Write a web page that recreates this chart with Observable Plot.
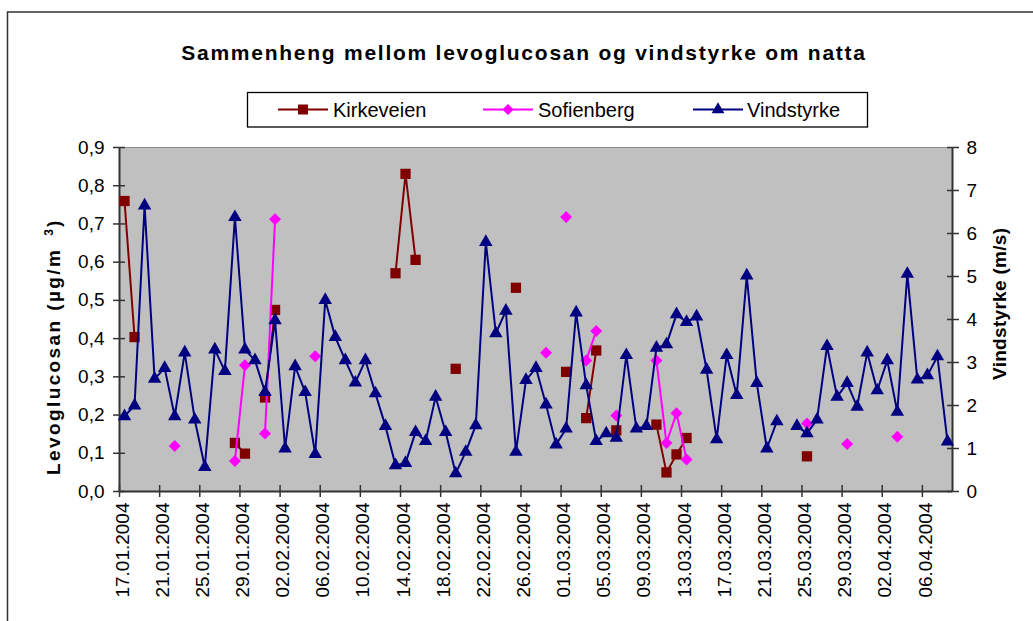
<!DOCTYPE html>
<html><head><meta charset="utf-8">
<script src="https://cdn.jsdelivr.net/npm/d3@7"></script>
<script src="https://cdn.jsdelivr.net/npm/@observablehq/plot@0.6"></script>
<style>
html,body{margin:0;padding:0;background:#fff;}
body{width:1033px;height:621px;overflow:hidden;font-family:"Liberation Sans",Arial,sans-serif;}
#wrap{position:relative;width:1033px;height:621px;}
#wrap svg{position:absolute;left:0;top:0;}
</style></head>
<body><div id="wrap"></div>
<script>
// Categories: one per night, 17.01.2004 .. 08.04.2004
const startDate = Date.UTC(2004, 0, 17);
const endDate = Date.UTC(2004, 3, 9); // exclusive
const dates = d3.utcDay.range(new Date(startDate), new Date(endDate));

// Levoglucosan (µg/m3), left axis
const kirkeveien = [
  0.76, 0.404, null, null, null, null, null, null, null, null,
  null, 0.127, 0.099, null, 0.246, 0.475, null, null, null, null,
  null, null, null, null, null, null, null, 0.571, 0.831, 0.606,
  null, null, null, 0.321, null, null, null, null, null, 0.533,
  null, null, null, null, 0.313, null, 0.192, 0.369, null, 0.160,
  null, null, null, 0.175, 0.050, 0.097, 0.140, null, null, null,
  null, null, null, null, null, null, null, null, 0.092, null,
  null, null, null, null, null, null, null, null, null, null,
  null, null, null
];
const sofienberg = [
  null, null, null, null, null, 0.119, null, null, null, null,
  null, 0.080, 0.330, null, 0.152, 0.712, null, null, null, 0.354,
  null, null, null, null, null, null, null, null, null, null,
  null, null, null, null, null, null, null, null, null, null,
  null, null, 0.363, null, 0.718, null, 0.343, 0.420, null, 0.199,
  null, null, null, 0.343, 0.127, 0.205, 0.084, null, null, null,
  null, null, null, null, null, null, null, null, 0.178, null,
  null, null, 0.124, null, null, null, null, 0.143, null, null,
  null, null, null
];
// Vindstyrke (m/s), right axis
const vindstyrke = [
  1.75, 2.0, 6.65, 2.62, 2.87, 1.75, 3.23, 1.67, 0.57, 3.3,
  2.8, 6.38, 3.3, 3.05, 2.31, 3.98, 1.0, 2.91, 2.31, 0.87,
  4.45, 3.59, 3.05, 2.53, 3.05, 2.28, 1.52, 0.61, 0.66, 1.38,
  1.17, 2.2, 1.38, 0.42, 0.92, 1.54, 5.8, 3.68, 4.2, 0.92,
  2.59, 2.87, 2.02, 1.09, 1.46, 4.16, 2.47, 1.17, 1.35, 1.25,
  3.17, 1.46, 1.52, 3.34, 3.42, 4.12, 3.94, 4.07, 2.83, 1.21,
  3.17, 2.24, 5.02, 2.52, 1.0, 1.63, null, 1.52, 1.35, 1.67,
  3.38, 2.2, 2.52, 1.97, 3.23, 2.35, 3.05, 1.85, 5.06, 2.6,
  2.7, 3.14, 1.16
];
const leftTicks = [0, 0.1, 0.2, 0.3, 0.4, 0.5, 0.6, 0.7, 0.8, 0.9];
const rightTicks = [0, 1, 2, 3, 4, 5, 6, 7, 8];
const leftMax = 0.9, rightMax = 8;

const title = "Sammenheng mellom levoglucosan og vindstyrke om natta";
const seriesNames = ["Kirkeveien", "Sofienberg", "Vindstyrke"];
const colors = ["#800000", "#FF00FF", "#000080"];

const ratio = leftMax / rightMax;
const rows = dates.map((date, i) => ({date, k: kirkeveien[i], s: sofienberg[i], w: vindstyrke[i]}));
const half = 12 * 3600e3;
const xDomain = [new Date(startDate - half), new Date(endDate - half)];
const labelDates = dates.filter((d, i) => i % 4 === 0);
const tickDates = labelDates.map(d => new Date(+d - half));
const fmtDate = d3.utcFormat("%d.%m.%Y");
const fmtY = d => d.toFixed(1).replace(".", ",");
const wy = d => d.w == null ? NaN : d.w * ratio;
const axisColor = "#333";

const chart = Plot.plot({
  width: 1033, height: 621,
  marginLeft: 119, marginRight: 81, marginTop: 147, marginBottom: 130,
  style: {fontFamily: "'Liberation Sans', Arial, sans-serif", fontSize: "19px", color: "#000", background: "transparent", overflow: "visible"},
  x: {type: "utc", domain: xDomain},
  y: {domain: [0, leftMax]},
  marks: [
    Plot.frame({fill: "#C0C0C0", stroke: "#8c8c8c"}),
    Plot.ruleY([0], {stroke: axisColor, strokeWidth: 2}),
    Plot.ruleX(xDomain, {stroke: axisColor, strokeWidth: 2}),
    Plot.axisX(tickDates, {tickSize: 12, dy: -6, fill: "none", stroke: axisColor, strokeWidth: 1.5, label: null}),
    Plot.axisX(labelDates, {tickSize: 0, tickPadding: 11, tickRotate: -90, tickFormat: fmtDate, label: null, dx: -2, fill: "#000"}),
    Plot.axisY(leftTicks, {anchor: "left", tickSize: 12, dx: 6, fill: "none", stroke: axisColor, strokeWidth: 1.5, label: null}),
    Plot.axisY(leftTicks, {anchor: "left", tickSize: 0, tickPadding: 15, tickFormat: fmtY, label: null, fill: "#000"}),
    Plot.axisY(rightTicks.map(v => v * ratio), {anchor: "right", tickSize: 12, dx: -6, fill: "none", stroke: axisColor, strokeWidth: 1.5, label: null}),
    Plot.axisY(rightTicks.map(v => v * ratio), {anchor: "right", tickSize: 0, tickPadding: 14, tickFormat: v => String(Math.round(v / ratio)), label: null, fill: "#000"}),
    Plot.line(rows, {x: "date", y: "k", stroke: colors[0], strokeWidth: 2}),
    Plot.dot(rows, {x: "date", y: "k", symbol: "square", r: 5.8, fill: colors[0], stroke: "none"}),
    Plot.line(rows, {x: "date", y: "s", stroke: colors[1], strokeWidth: 2}),
    Plot.dot(rows, {x: "date", y: "s", symbol: "diamond2", r: 5.4, fill: colors[1], stroke: "none"}),
    Plot.line(rows, {x: "date", y: wy, stroke: colors[2], strokeWidth: 2}),
    Plot.dot(rows, {x: "date", y: wy, symbol: "triangle", r: 5, fill: colors[2], stroke: "none"})
  ]
});
document.getElementById("wrap").appendChild(chart);

const svg = d3.select(chart);
const font = "'Liberation Sans', Arial, sans-serif";
// outer chart border
svg.insert("rect", ":first-child").attr("x", 7.5).attr("y", 12).attr("width", 1040).attr("height", 700)
  .attr("fill", "none").attr("stroke", "#333").attr("stroke-width", 1.5);
// title
svg.append("text").attr("x", 524).attr("y", 60).attr("text-anchor", "middle")
  .attr("font-family", font).attr("font-weight", "bold").attr("font-size", 21)
  .attr("letter-spacing", "1.75px").attr("fill", "#000").text(title);
// legend
const lg = svg.append("g");
lg.append("rect").attr("x", 247.5).attr("y", 92.5).attr("width", 620).attr("height", 34.5)
  .attr("fill", "#fff").attr("stroke", "#000").attr("stroke-width", 1.3);
const lx = [278, 483, 693];
const symbols = [d3.symbolSquare, d3.symbolDiamond2, d3.symbolTriangle];
const symSize = [100, 80, 70];
seriesNames.forEach((name, i) => {
  lg.append("line").attr("x1", lx[i]).attr("x2", lx[i] + 50).attr("y1", 109.5).attr("y2", 109.5)
    .attr("stroke", colors[i]).attr("stroke-width", 2);
  lg.append("path").attr("transform", `translate(${lx[i] + 25},109.5)`)
    .attr("d", d3.symbol(symbols[i], symSize[i])()).attr("fill", colors[i]);
  lg.append("text").attr("x", lx[i] + 55 - (i === 2 ? 1 : 0)).attr("y", 116.5)
    .attr("text-anchor", "start")
    .attr("font-family", font).attr("font-size", 20).attr("fill", "#000").text(name);
});
// left axis title
const lt = svg.append("text").attr("transform", "translate(60,475) rotate(-90)")
  .attr("text-anchor", "start")
  .attr("font-family", font).attr("font-weight", "bold").attr("font-size", 19)
  .attr("letter-spacing", "2.4px").attr("fill", "#000");
lt.append("tspan").text("Levoglucosan (µg/m");
lt.append("tspan").attr("dx", 12).attr("dy", -7).attr("font-size", 12).attr("letter-spacing", "0px").text("3");
lt.append("tspan").attr("dy", 7).attr("dx", 2).text(")");
// right axis title
svg.append("text").attr("transform", "translate(1006,380) rotate(-90)")
  .attr("text-anchor", "start")
  .attr("font-family", font).attr("font-weight", "bold").attr("font-size", 19)
  .attr("letter-spacing", "0.3px").attr("fill", "#000").text("Vindstyrke (m/s)");
</script>
</body></html>
